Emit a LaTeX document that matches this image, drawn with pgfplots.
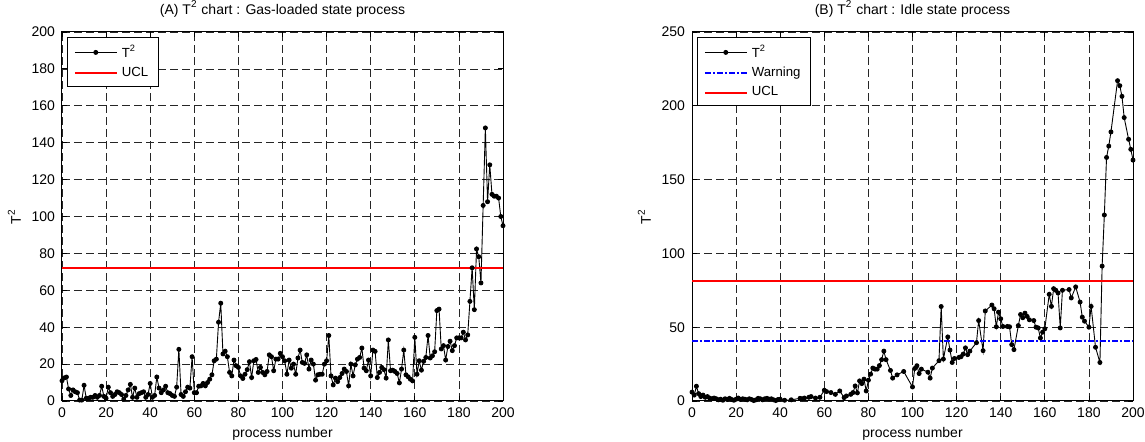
\documentclass[border=0pt]{standalone}
\usepackage{fontspec}
\setmainfont{Liberation Sans}
\usepackage{pgfplots}
\pgfplotsset{compat=1.18}

\pgfplotsset{
  mlab/.style={
    scale only axis,
    width=220.5pt, height=184.5pt,
    xmin=0, xmax=200, ymin=0,
    xtick={0,20,...,200},
    tick align=inside,
    major tick length=2.5pt,
    axis line style={line width=0.5pt},
    every tick/.style={black, line width=0.4pt},
    grid=major,
    major grid style={black!85, line width=0.35pt, dash pattern=on 4pt off 2pt},
    font=\fontsize{7}{8.4}\selectfont,
    /pgf/number format/assume math mode=true,
    ticklabel style={font=\fontsize{7}{8.4}\selectfont},
    xlabel={process number},
    ylabel={T\textsuperscript{2}},
    ylabel style={at={(axis description cs:-0.108,0.5)}, anchor=center},
    xlabel style={yshift=2pt},
    title style={yshift=-2pt},
    legend cell align=left,
    legend style={at={(0.012,0.986)}, anchor=north west, draw=black,
      line width=0.5pt, inner xsep=3pt, inner ysep=1.5pt, row sep=-0.5pt,
      font=\fontsize{6.6}{7.9}\selectfont},
    legend image code/.code={\draw[mark repeat=2,mark phase=2,#1] plot coordinates {(0pt,0pt) (10.5pt,0pt) (21pt,0pt)};},
  },
  tsq/.style={black, line width=0.45pt, mark=*, mark size=1pt},
}

\begin{document}
\begin{tikzpicture}
\useasboundingbox (0,0) rectangle (572.5pt,221pt);

\begin{axis}[mlab, at={(31pt,20.5pt)}, anchor=south west,
  ymax=200, ytick={0,20,...,200},
  title={(A) T\textsuperscript{2} chart : Gas-loaded state process}]
\addplot[tsq] coordinates {
(0,11) (1,12.5) (2,13) (3,6.5) (4,3) (5,6) (6,5) (7,4.5) (8,0.5) (9,0.5)
(10,8.5) (11,1.5) (12,1.5) (13,2) (14,2) (15,3) (16,2) (17,3) (18,8) (19,2.5)
(20,1.5) (21,7.5) (22,4.5) (23,2.5) (24,3.5) (25,5) (26,4.5) (27,3.5) (28,1) (29,3)
(30,6) (31,9) (32,2) (33,7) (34,2) (35,4) (36,4.5) (37,5) (38,2) (39,3.5)
(40,9.5) (41,2) (42,3) (43,13) (44,7) (45,4.5) (46,6) (47,8) (48,4.5) (49,4)
(50,3) (51,2.5) (52,7.5) (53,28) (54,3.5) (55,2.5) (56,5) (57,7.5) (58,7) (59,24)
(60,4.5) (61,4.5) (62,8) (63,8.2) (64,9.5) (65,8.2) (66,10) (67,11.8) (68,14.2) (69,21.8)
(70,22.7) (71,42.7) (72,53) (73,25.5) (74,27) (75,24) (76,15.5) (77,13.6) (78,22.2) (79,19.1)
(80,18.2) (81,13.6) (82,12.2) (83,14.5) (84,17) (85,21.3) (86,12.7) (87,21.8) (88,22.5) (89,15.5)
(90,18.2) (91,15.5) (92,14.2) (93,16) (94,25) (95,24) (96,16.4) (97,22.7) (98,22.7) (99,25.8)
(100,24) (101,21.8) (102,14.5) (103,22.2) (104,17.8) (105,20) (106,14.5) (107,23.3) (108,27.6) (109,20.9)
(110,20.4) (111,25) (112,17.3) (113,22.2) (114,20) (115,11.3) (116,14.2) (117,14.5) (118,14.5) (119,20)
(120,21.8) (121,35.5) (122,13.6) (123,8.7) (124,12.4) (125,10.5) (126,12.7) (127,14.9) (128,17.3) (129,16)
(130,8.2) (131,20) (132,13.6) (133,19.6) (134,22.7) (135,23.6) (136,28.7) (137,17.8) (138,16.4) (139,22.2)
(140,13.6) (141,27.6) (142,26.9) (143,12.7) (144,15.5) (145,18.2) (146,17) (147,12.4) (148,33.1) (149,16.4)
(150,16.7) (151,16) (152,14.9) (153,9.8) (154,17.3) (155,27.6) (156,14.2) (157,13.1) (158,11.8) (159,10.9)
(160,34.5) (161,14.5) (162,21.8) (163,16.7) (164,21.5) (165,23.6) (166,35.5) (167,23.3) (168,24.5) (169,26.7)
(170,49) (171,49.8) (172,28.2) (173,30) (174,22.2) (175,29.5) (176,32.4) (177,27.3) (178,30) (179,34.2)
(180,34.2) (181,34.2) (182,37.3) (183,33.1) (184,35.8) (185,54) (186,72.2) (187,49.5) (188,82.4) (189,78.2)
(190,64) (191,106) (192,148) (193,108) (194,128) (195,112) (196,111) (197,111) (198,110) (199,100)
(200,95)
};
\addlegendentry{T\textsuperscript{2}}
\addplot[red, line width=1pt] coordinates {(0,72.2) (200,72.2)};
\addlegendentry{UCL\hspace{14pt}}
\end{axis}

\begin{axis}[mlab, at={(346pt,20.5pt)}, anchor=south west,
  ymax=250, ytick={0,50,...,250},
  title={(B) T\textsuperscript{2} chart : Idle state process}]
\addplot[tsq] coordinates {
(0,6) (1,4) (2,10) (3,5) (4,3) (5,4) (6,2.5) (7,3) (8,2) (9,1.5)
(10,2) (11,1.5) (12,0.8) (13,1.2) (14,0.5) (15,1.5) (16,1) (17,1.8) (18,1) (19,0.5)
(20,1.2) (21,2) (22,1) (23,1.5) (24,1.2) (25,0.8) (26,1.5) (27,1) (28,0.3) (29,0.8)
(30,1.8) (31,1.5) (32,0.8) (33,1.5) (34,1.8) (35,1.2) (36,1.5) (37,0.8) (38,0.3) (39,1)
(40,1.2) (42,0.5) (45,0.8) (49,1.8) (50,1.5) (51,2) (53,2.5) (54,3) (56,2) (58,2.5)
(60,7.3) (61,6.4) (63,5.7) (65,4.5) (67,6.8) (69,2.3) (70,3.4) (72,4.5) (73,5.7) (74,10.2)
(75,5.5) (76,13.6) (77,11.8) (78,14.8) (79,6.8) (80,14.1) (81,18.2) (82,22.3) (83,21.6) (84,21.6)
(85,24) (86,28) (87,33.8) (88,28) (90,20.7) (91,15.5) (93,17.7) (96,20) (100,9.5) (101,22)
(102,23.9) (103,18.6) (104,21.6) (107,19.5) (108,15.5) (109,22.3) (112,27.3) (113,64) (114,28.4) (116,43.4)
(117,34.5) (118,26.1) (119,28.8) (121,29.5) (122,30) (123,31.8) (124,36) (125,31.4) (126,33.8) (129,39.5)
(130,54.5) (132,34.1) (133,61) (136,65) (137,62.5) (138,50.3) (139,60.2) (140,55.7) (141,50.5) (143,50.5)
(144,50.3) (145,38.2) (146,34.8) (148,51.1) (149,58.6) (150,56.4) (151,59.5) (152,57.3) (153,55) (155,54.5)
(156,50) (157,49.5) (158,42.7) (159,46.6) (160,48.9) (162,72.3) (163,64.1) (164,76.1) (165,75) (166,73.2)
(167,49.5) (168,75) (171,75.5) (172,69.8) (174,77.3) (176,67) (177,56.8) (178,54.1) (180,50) (181,64.1)
(183,36.4) (185,26.1) (186,91.4) (187,126) (188,165) (189,172.7) (190,182.3) (193,217) (194,213.6) (195,206.4)
(196,192) (198,177.3) (199,170.5) (200,163.2)
};
\addlegendentry{T\textsuperscript{2}}
\addplot[blue, line width=1pt, dash pattern=on 3pt off 1pt on 1pt off 1pt] coordinates {(0,40.5) (200,40.5)};
\addlegendentry{Warning}
\addplot[red, line width=1pt] coordinates {(0,81.5) (200,81.5)};
\addlegendentry{UCL}
\end{axis}
\end{tikzpicture}
\end{document}
